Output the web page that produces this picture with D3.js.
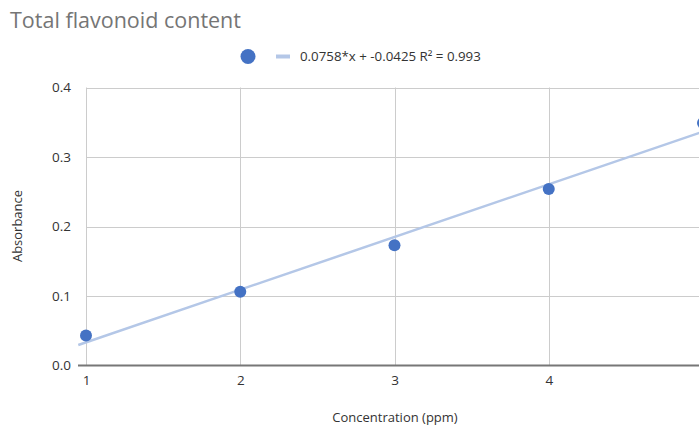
<!DOCTYPE html>
<html>
<head>
<meta charset="utf-8">
<script src="https://cdn.jsdelivr.net/npm/d3@7"></script>
<style>
body { margin: 0; background: #fff; }
text { font-family: "Open Sans", "Noto Sans", sans-serif; }
</style>
</head>
<body>
<div id="chart-area"></div>
<script>
var concentration = [1, 2, 3, 4, 5];
var absorbance = [0.043, 0.106, 0.173, 0.254, 0.349];
var trend_slope = 0.0758;
var trend_intercept = -0.0425;
var trend_range = [0.95, 5.05];
var y_ticks = [0, 0.1, 0.2, 0.3, 0.4];
var x_ticks = [1, 2, 3, 4, 5];
var x_tick_labels = [1, 2, 3, 4];
var legend_label = "0.0758*x + -0.0425 R² = 0.993";

var width = 699, height = 425;

var svg = d3.select("#chart-area").append("svg")
    .attr("width", width)
    .attr("height", height);

var xScale = d3.scaleLinear()
    .domain([1, 5])
    .range([86, 703]);
var yScale = d3.scaleLinear()
    .domain([0, 0.4])
    .range([365.5, 87.5]);

// grid
svg.append("g")
    .selectAll("line")
    .data(y_ticks.slice(1))
    .enter()
    .append("line")
    .attr("x1", 86)
    .attr("x2", width)
    .attr("y1", function (d) { return Math.round(yScale(d)) + 0.5; })
    .attr("y2", function (d) { return Math.round(yScale(d)) + 0.5; })
    .attr("stroke", "#cccccc")
    .attr("stroke-width", 1);
svg.append("g")
    .selectAll("line")
    .data(x_ticks)
    .enter()
    .append("line")
    .attr("x1", function (d) { return Math.round(xScale(d)) + 0.5; })
    .attr("x2", function (d) { return Math.round(xScale(d)) + 0.5; })
    .attr("y1", yScale(0.4))
    .attr("y2", yScale(0))
    .attr("stroke", "#cccccc")
    .attr("stroke-width", 1);

// axes
var yAxis = svg.append("g")
    .attr("transform", "translate(80,0)")
    .call(d3.axisLeft(yScale).tickValues(y_ticks).tickFormat(d3.format(".1f")).tickSize(0).tickPadding(9));
yAxis.select(".domain").remove();
yAxis.selectAll("text").attr("font-size", 13.5).attr("fill", "#333");

var xAxis = svg.append("g")
    .attr("transform", "translate(0," + yScale(0) + ")")
    .call(d3.axisBottom(xScale).tickValues(x_tick_labels).tickFormat(d3.format("d")).tickSize(0).tickPadding(10));
xAxis.select(".domain").remove();
xAxis.selectAll("text").attr("font-size", 13.5).attr("fill", "#333");

svg.append("line")
    .attr("x1", 78)
    .attr("x2", width)
    .attr("y1", yScale(0))
    .attr("y2", yScale(0))
    .attr("stroke", "#777")
    .attr("stroke-width", 2);

// trendline
var line = d3.line()
    .x(function (d) { return xScale(d); })
    .y(function (d) { return yScale(trend_slope * d + trend_intercept); });
svg.append("path")
    .datum(trend_range)
    .attr("d", line)
    .attr("fill", "none")
    .attr("stroke", "#b4c7e7")
    .attr("stroke-width", 2.5);

// points
svg.selectAll(".pt")
    .data(absorbance)
    .enter()
    .append("circle")
    .attr("class", "pt")
    .attr("cx", function (d, i) { return xScale(concentration[i]); })
    .attr("cy", function (d) { return yScale(d); })
    .attr("r", 6)
    .attr("fill", "#4472c4");

// title
svg.append("text")
    .attr("x", 10)
    .attr("y", 28)
    .attr("font-size", 21.5)
    .attr("fill", "#757575")
    .text("Total flavonoid content");

// legend
svg.append("circle")
    .attr("cx", 248)
    .attr("cy", 56.5)
    .attr("r", 7.5)
    .attr("fill", "#4472c4");
svg.append("line")
    .attr("x1", 276)
    .attr("x2", 290)
    .attr("y1", 56.5)
    .attr("y2", 56.5)
    .attr("stroke", "#b4c7e7")
    .attr("stroke-width", 4);
svg.append("text")
    .attr("x", 300)
    .attr("y", 61)
    .attr("font-size", 13.3)
    .attr("fill", "#333")
    .text(legend_label);

// axis titles
svg.append("text")
    .attr("x", 395)
    .attr("y", 422)
    .attr("text-anchor", "middle")
    .attr("font-size", 13)
    .attr("fill", "#333")
    .text("Concentration (ppm)");
svg.append("text")
    .attr("transform", "translate(22,226) rotate(-90)")
    .attr("text-anchor", "middle")
    .attr("font-size", 13)
    .attr("fill", "#333")
    .text("Absorbance");
</script>
</body>
</html>
